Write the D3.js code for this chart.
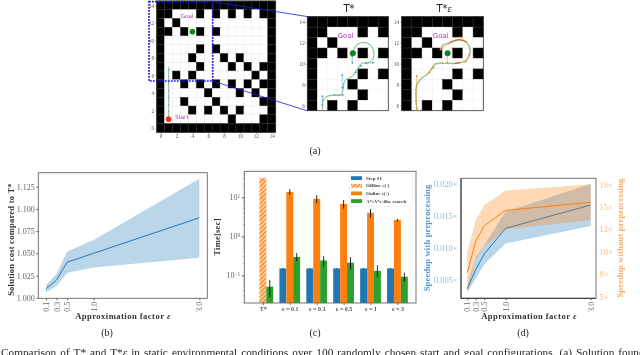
<!DOCTYPE html>
<html>
<head>
<meta charset="utf-8">
<script src="https://cdnjs.cloudflare.com/ajax/libs/d3/7.8.5/d3.min.js"></script>
<style>
  html, body { margin: 0; padding: 0; background: #fff; overflow: hidden; }
  svg { display: block; filter: blur(0.3px); }
  text { font-family: "Liberation Serif", serif; }
  text.sans { font-family: "DejaVu Sans", sans-serif; }
  .axis path, .axis line { stroke: #666; }
</style>
</head>
<body>
<svg id="chart" width="640" height="355"></svg>
<script>
const blue = '#1f77b4'
const orange = '#ff7f0e'
const green = '#2ca02c'

// grid map, top row is y = 14
const gridRows = [
  '###############',
  '##...#.#.#.#.##',
  '#.#...........#',
  '##.#.#.#......#',
  '#.............#',
  '#....#.#......#',
  '#...#...#.#...#',
  '#....#...#.#.##',
  '#.#.#.......#.#',
  '#..#.#.#.#.#.##',
  '#.....#...#.#.#',
  '#..#...#.....##',
  '#...#.#.#.#...#',
  '#........#...##',
  '###############',
]
const gridTicks = [0, 2, 4, 6, 8, 10, 12, 14]
const insetYTicks = [6, 8, 10, 12, 14]
const startCell = [1, 1]
const goalCell = [4, 11]

// paths, in grid units
const startPath = [[1, 1], [1, 7]]
const tStarPath = [[1, 5.6], [1, 6.2], [1.27, 6.77], [2.07, 7], [2.8, 7], [3.05, 7.63], [3.2, 8.37], [3.87, 8.75], [4.43, 9.45], [4.86, 10.03], [5.5, 10.1], [5.95, 10.4], [6.08, 11.15], [5.7, 11.8], [5.03, 12.04], [4.37, 11.8], [3.97, 11]]
const tStarArrows = [[1, 5.9, 1, 7], [2.07, 7, 3.1, 7], [2.95, 7.6, 2.95, 9], [4.2, 9.07, 4.86, 9.87], [5.2, 10.03, 6.1, 10.1], [3.94, 10.8, 3.94, 10]]
const epsPath = [[0.97, 5.6], [0.97, 7.95], [1.46, 8.6], [2.1, 9.07], [2.77, 9.96], [3.75, 10.03], [4.73, 10.03], [5.2, 10.1], [5.87, 10.35], [6.2, 11.3], [5.87, 12.04], [5.2, 12.3], [4.24, 12], [3.6, 11.8], [3.25, 11.3]]
const epsArrows = [[0.97, 5.6, 0.97, 8.9], [2.1, 9.07, 2.7, 9.7], [3.97, 10, 3.97, 11], [3.25, 11.3, 4.2, 12], [5.2, 12.6, 5.87, 12.04], [5.7, 10.1, 6.2, 11]]
const epsRed = [[[4.2, 12.05], [5.1, 12.3], [5.87, 12.05]], [[4.7, 10.03], [5.3, 10.1]]]

// (b)
const factors = [0.1, 0.3, 0.5, 1.0, 3.0]
const factorLabels = ['0.1', '0.3', '0.5', '1.0', '3.0']
const costMean = [1.010, 1.020, 1.040, 1.050, 1.090]
const costUpper = [1.014, 1.027, 1.052, 1.065, 1.134]
const costLower = [1.006, 1.013, 1.028, 1.034, 1.045]
const costTicks = [1.000, 1.025, 1.050, 1.075, 1.100, 1.125]

// (c)
const methods = ['T*', 'ε = 0.1', 'ε = 0.3', 'ε = 0.5', 'ε = 1', 'ε = 3']
const stepS1 = [null, 0.15, 0.15, 0.15, 0.15, 0.15]
const stepS1Low = [null, 0.147, 0.147, 0.147, 0.147, 0.147]
const stepS1High = [null, 0.153, 0.153, 0.153, 0.153, 0.153]
const offline = [31, null, null, null, null, null]
const online = [null, 13.7, 9.1, 6.75, 4, 2.6]
const onlineLow = [null, 11.5, 7, 5.1, 3, 2.4]
const onlineHigh = [null, 16, 11.2, 8.5, 5, 2.8]
const search = [0.051, 0.295, 0.24, 0.21, 0.13, 0.092]
const searchLow = [0.028, 0.23, 0.165, 0.14, 0.09, 0.069]
const searchHigh = [0.076, 0.37, 0.31, 0.29, 0.18, 0.117]
const legendLabels = ['Step S1', 'Offline c(·)', 'Online c(·)', 'A*/A*ε-like search']

// (d)
const speedMean = [0.0035, 0.00657, 0.009, 0.013, 0.01665]
const speedUpper = [0.0041, 0.00845, 0.0104, 0.0156, 0.01995]
const speedLower = [0.0029, 0.00516, 0.00735, 0.0106, 0.01336]
const rawMean = [7.7, 11.2, 12.9, 14.6, 15.5]
const rawUpper = [10, 13.5, 15.2, 16.8, 17.5]
const rawLower = [5.55, 9.1, 10.6, 12.5, 13.5]
const speedTicks = [0.005, 0.010, 0.015, 0.020]
const speedLabels = ['0.005×', '0.010×', '0.015×', '0.020×']
const rawTicks = [5, 7.5, 10, 12.5, 15, 17.5]
const rawLabels = ['5×', '8×', '10×', '12×', '15×', '18×']

const svg = d3.select('#chart')

defs()
drawMaps()
drawCost()
drawTimes()
drawSpeedup()
drawCaptions()

function defs() {
  const d = svg.append('defs')
  const hatch = d.append('pattern')
    .attr('id', 'hatch')
    .attr('width', 3)
    .attr('height', 3)
    .attr('patternUnits', 'userSpaceOnUse')
    .attr('patternTransform', 'rotate(45)')
  hatch.append('rect').attr('width', 3).attr('height', 3).attr('fill', '#ffe2c4')
  hatch.append('rect').attr('width', 1.5).attr('height', 3).attr('fill', orange)
  const heads = { blueHead: '#4a9bd8', orangeHead: '#f58a2a' }
  for (const id in heads) {
    d.append('marker')
      .attr('id', id)
      .attr('viewBox', '0 0 6 6')
      .attr('refX', 5)
      .attr('refY', 3)
      .attr('markerWidth', 4.5)
      .attr('markerHeight', 4.5)
      .attr('orient', 'auto-start-reverse')
      .append('path')
      .attr('d', 'M0,0L6,3L0,6Z')
      .attr('fill', heads[id])
  }
}

function gridMap(g, x, y, colMax, rowMin, gridColor) {
  gridRows.forEach((row, i) => {
    const rowY = 14 - i
    if (rowY < rowMin) return
    row.split('').forEach((c, col) => {
      if (col > colMax) return
      g.append('rect')
        .attr('x', x(col - 0.5))
        .attr('y', y(rowY + 0.5))
        .attr('width', x(1) - x(0))
        .attr('height', y(0) - y(1))
        .attr('fill', c === '#' ? '#000' : '#fff')
        .attr('stroke', c === '#' ? '#2a2a2a' : gridColor)
        .attr('stroke-width', 0.5)
    })
  })
  g.append('rect')
    .attr('x', x.range()[0])
    .attr('y', y.range()[1])
    .attr('width', x.range()[1] - x.range()[0])
    .attr('height', y.range()[0] - y.range()[1])
    .attr('fill', 'none')
    .attr('stroke', '#333')
    .attr('stroke-width', 0.8)
}

function smallAxes(g, x, y, xTicks, yTicks) {
  const sty = (a) => {
    a.select('.domain').remove()
    a.selectAll('line').attr('stroke', '#555').attr('stroke-width', 0.5)
    a.selectAll('text').attr('fill', '#555').attr('font-size', 5.2).attr('font-family', 'DejaVu Sans')
  }
  if (xTicks) {
    g.append('g')
      .attr('transform', `translate(0,${y.range()[0]})`)
      .call(d3.axisBottom(x).tickValues(xTicks).tickSize(1.5).tickPadding(1))
      .call(sty)
  }
  g.append('g')
    .attr('transform', `translate(${x.range()[0]},0)`)
    .call(d3.axisLeft(y).tickValues(yTicks).tickSize(1.5).tickPadding(1))
    .call(sty)
}

function arrows(g, list, x, y, color, head) {
  g.selectAll(null)
    .data(list)
    .join('line')
    .attr('x1', (d) => x(d[0]))
    .attr('y1', (d) => y(d[1]))
    .attr('x2', (d) => x(d[2]))
    .attr('y2', (d) => y(d[3]))
    .attr('stroke', color)
    .attr('stroke-width', 0.55)
    .attr('marker-end', `url(#${head})`)
    .attr('marker-start', `url(#${head})`)
}

function drawMaps() {
  // full map
  const full = svg.append('g')
  const fx = d3.scaleLinear().domain([-0.5, 14.5]).range([156.7, 275.7])
  const fy = d3.scaleLinear().domain([-0.5, 14.5]).range([132.3, 1])
  gridMap(full, fx, fy, 14, 0, '#ececec')
  smallAxes(full, fx, fy, gridTicks, gridTicks)

  full.append('line')
    .attr('x1', fx(startPath[0][0]))
    .attr('y1', fy(startPath[0][1]))
    .attr('x2', fx(startPath[1][0]))
    .attr('y2', fy(startPath[1][1]))
    .attr('stroke', '#9ccfa0')
    .attr('stroke-width', 1.4)
  full.append('line')
    .attr('x1', fx(startPath[0][0]))
    .attr('y1', fy(startPath[0][1]))
    .attr('x2', fx(startPath[1][0]))
    .attr('y2', fy(startPath[1][1]))
    .attr('stroke', '#3a8fd0')
    .attr('stroke-width', 1)
    .attr('stroke-dasharray', '1 6')
  full.append('circle')
    .attr('cx', fx(startCell[0]))
    .attr('cy', fy(startCell[1]))
    .attr('r', 2.8)
    .attr('fill', '#f03020')
  full.append('circle')
    .attr('cx', fx(goalCell[0]))
    .attr('cy', fy(goalCell[1]))
    .attr('r', 2.8)
    .attr('fill', '#0a8a1a')
  full.append('text')
    .attr('class', 'sans')
    .attr('x', fx(2.53))
    .attr('y', fy(12.53))
    .attr('font-size', 5.6)
    .attr('fill', '#b040b0')
    .text('Goal')
  full.append('text')
    .attr('class', 'sans')
    .attr('x', fx(1.8))
    .attr('y', fy(1))
    .attr('font-size', 5.6)
    .attr('fill', '#b040b0')
    .text('Start')

  // zoom box and connectors
  svg.append('rect')
    .attr('x', 149)
    .attr('y', 1.7)
    .attr('width', 63.7)
    .attr('height', 79.3)
    .attr('fill', 'none')
    .attr('stroke', '#1a1ae0')
    .attr('stroke-width', 1.7)
    .attr('stroke-dasharray', '1.8 1.2')
  svg.append('line').attr('x1', 212.7).attr('y1', 1.7).attr('x2', 307).attr('y2', 16.5).attr('stroke', '#1a1ae0').attr('stroke-width', 0.8)
  svg.append('line').attr('x1', 212.7).attr('y1', 81).attr('x2', 307).attr('y2', 110.7).attr('stroke', '#1a1ae0').attr('stroke-width', 0.8)

  // T*
  const line = (x, y) => d3.line().x((d) => x(d[0])).y((d) => y(d[1])).curve(d3.curveCatmullRom)
  const left = svg.append('g')
  const lx = d3.scaleLinear().domain([-0.5, 7.5]).range([307.3, 388.3])
  const ly = d3.scaleLinear().domain([5.5, 14.5]).range([110.7, 16.7])
  gridMap(left, lx, ly, 7, 6, '#f4f4f4')
  smallAxes(left, lx, ly, null, insetYTicks)
  arrows(left, tStarArrows, lx, ly, '#4a9bd8', 'blueHead')
  left.append('path')
    .attr('d', line(lx, ly)(tStarPath))
    .attr('fill', 'none')
    .attr('stroke', '#63b96b')
    .attr('stroke-width', 1)
  left.append('circle').attr('cx', lx(goalCell[0])).attr('cy', ly(goalCell[1])).attr('r', 3).attr('fill', '#0a8a1a')
  left.append('text')
    .attr('class', 'sans')
    .attr('x', lx(2.5))
    .attr('y', ly(12.47))
    .attr('font-size', 7)
    .attr('fill', '#b040b0')
    .text('Goal')
  svg.append('text')
    .attr('class', 'sans')
    .attr('x', 349)
    .attr('y', 12)
    .attr('text-anchor', 'middle')
    .attr('font-size', 10)
    .attr('fill', '#222')
    .text('T*')

  // T*eps
  const right = svg.append('g')
  const rx = d3.scaleLinear().domain([-0.5, 7.5]).range([401.7, 483.3])
  gridMap(right, rx, ly, 7, 6, '#f0f0f0')
  smallAxes(right, rx, ly, null, insetYTicks)
  right.append('path')
    .attr('d', line(rx, ly)(epsPath))
    .attr('fill', 'none')
    .attr('stroke', '#8ccb8f')
    .attr('stroke-width', 1.4)
  right.append('path')
    .attr('d', line(rx, ly)(epsPath))
    .attr('fill', 'none')
    .attr('stroke', '#f58a2a')
    .attr('stroke-width', 0.8)
    .attr('stroke-dasharray', '1.5 6')
  epsRed.forEach((p) => {
    right.append('path')
      .attr('d', line(rx, ly)(p))
      .attr('fill', 'none')
      .attr('stroke', '#e83a20')
      .attr('stroke-width', 0.9)
  })
  arrows(right, epsArrows, rx, ly, '#f58a2a', 'orangeHead')
  right.append('circle').attr('cx', rx(goalCell[0])).attr('cy', ly(goalCell[1])).attr('r', 3).attr('fill', '#0a8a1a')
  right.append('text')
    .attr('class', 'sans')
    .attr('x', rx(2.54))
    .attr('y', ly(12.47))
    .attr('font-size', 7)
    .attr('fill', '#b040b0')
    .text('Goal')
  const title = svg.append('text')
    .attr('class', 'sans')
    .attr('x', 444)
    .attr('y', 12)
    .attr('text-anchor', 'middle')
    .attr('font-size', 10)
    .attr('fill', '#222')
    .text('T*')
  title.append('tspan').attr('font-style', 'italic').attr('font-family', 'Liberation Serif').text('ε')
}

function frame(g, x0, y0, x1, y1) {
  g.append('rect')
    .attr('x', x0)
    .attr('y', y0)
    .attr('width', x1 - x0)
    .attr('height', y1 - y0)
    .attr('fill', 'none')
    .attr('stroke', '#666')
    .attr('stroke-width', 0.9)
}

function factorAxis(g, x, yPos) {
  g.append('g')
    .attr('class', 'axis')
    .attr('transform', `translate(0,${yPos})`)
    .call(d3.axisBottom(x).tickValues(factors).tickFormat((d, i) => factorLabels[i]).tickSize(2).tickPadding(1.5))
    .call((a) => {
      a.select('.domain').remove()
      a.selectAll('text')
        .attr('transform', 'rotate(-90)')
        .attr('text-anchor', 'end')
        .attr('x', -3.5)
        .attr('y', 0)
        .attr('dy', '0.32em')
        .attr('font-size', 8)
        .attr('font-family', 'Liberation Serif')
        .attr('fill', '#666')
    })
}

function xLabel(g, cx) {
  const t = g.append('text')
    .attr('x', cx)
    .attr('y', 319)
    .attr('text-anchor', 'middle')
    .attr('font-size', 8.6)
    .attr('font-weight', 'bold')
    .attr('letter-spacing', 0.45)
    .attr('fill', '#333')
    .text('Approximation factor ')
  t.append('tspan').attr('font-style', 'italic').text('ε')
}

function drawCost() {
  const g = svg.append('g')
  const x = d3.scaleLinear().domain([0.1, 3]).range([46, 199.3])
  const y = d3.scaleLinear().domain([1, 1.125]).range([297.7, 186.7])
  const area = d3.area()
    .x((d, i) => x(factors[i]))
    .y0((d, i) => y(costLower[i]))
    .y1((d) => y(d))
  g.append('path').attr('d', area(costUpper)).attr('fill', blue).attr('opacity', 0.3)
  g.append('path')
    .attr('d', d3.line().x((d, i) => x(factors[i])).y((d) => y(d))(costMean))
    .attr('fill', 'none')
    .attr('stroke', blue)
    .attr('stroke-width', 1)
  frame(g, 38.3, 172.7, 207.3, 298.3)
  factorAxis(g, x, 298.3)
  g.append('g')
    .attr('class', 'axis')
    .attr('transform', 'translate(38.3,0)')
    .call(d3.axisLeft(y).tickValues(costTicks).tickFormat(d3.format('.3f')).tickSize(2).tickPadding(1.5))
    .call((a) => {
      a.select('.domain').remove()
      a.selectAll('text').attr('font-size', 8).attr('font-family', 'Liberation Serif').attr('fill', '#666')
    })
  xLabel(g, 123)
  g.append('text')
    .attr('transform', 'translate(13.5,239.5) rotate(-90)')
    .attr('text-anchor', 'middle')
    .attr('font-size', 8.6)
    .attr('font-weight', 'bold')
    .attr('letter-spacing', 0.2)
    .attr('fill', '#333')
    .text('Solution cost compared to T*')
}

function drawTimes() {
  const g = svg.append('g')
  const x = d3.scalePoint().domain(methods).range([244.3, 416]).padding(0.69)
  const y = d3.scaleLog().domain([0.0195, 46]).range([303, 171.3])
  const w = x.step() * 0.257
  const series = [
    { values: stepS1, low: stepS1Low, high: stepS1High, fill: blue, off: -1 },
    { values: offline, fill: 'url(#hatch)', off: 0 },
    { values: online, low: onlineLow, high: onlineHigh, fill: orange, off: 0 },
    { values: search, low: searchLow, high: searchHigh, fill: green, off: 1 },
  ]
  series.forEach((s) => {
    methods.forEach((m, i) => {
      if (s.values[i] == null) return
      const cx = x(m) + s.off * w
      g.append('rect')
        .attr('x', cx - w / 2)
        .attr('y', y(s.values[i]))
        .attr('width', w)
        .attr('height', 303 - y(s.values[i]))
        .attr('fill', s.fill)
    })
  })
  series.forEach((s) => {
    if (!s.low) return
    methods.forEach((m, i) => {
      if (s.values[i] == null) return
      const cx = x(m) + s.off * w
      g.append('line')
        .attr('x1', cx)
        .attr('x2', cx)
        .attr('y1', y(s.low[i]))
        .attr('y2', y(s.high[i]))
        .attr('stroke', '#111')
        .attr('stroke-width', 0.9)
    })
  })
  frame(g, 244.3, 171.3, 416, 303)
  g.append('g')
    .attr('class', 'axis')
    .attr('transform', 'translate(0,303)')
    .call(d3.axisBottom(x).tickSize(2).tickPadding(1.5))
    .call((a) => {
      a.select('.domain').remove()
      a.selectAll('text')
        .attr('font-size', 6)
        .attr('font-weight', 'bold')
        .attr('font-family', 'Liberation Serif')
        .attr('fill', '#555')
    })
  const yAxis = g.append('g')
    .attr('class', 'axis')
    .attr('transform', 'translate(244.3,0)')
    .call(d3.axisLeft(y).tickValues([0.1, 1, 10]).tickFormat(() => '10').tickSize(2.5).tickPadding(1.5))
  yAxis.select('.domain').remove()
  yAxis.selectAll('text')
    .attr('font-size', 8)
    .attr('font-family', 'Liberation Serif')
    .attr('fill', '#666')
    .append('tspan')
    .attr('dy', '-0.45em')
    .attr('font-size', 5.4)
    .text((d) => (d < 1 ? '−1' : d < 10 ? '0' : '1'))
  // minor log ticks
  const minor = []
  for (const dec of [0.01, 0.1, 1, 10]) {
    for (let k = 2; k < 10; k++) {
      if (dec * k > 0.0195 && dec * k < 46) minor.push(dec * k)
    }
  }
  g.selectAll(null)
    .data(minor)
    .join('line')
    .attr('x1', 244.3)
    .attr('x2', 242.9)
    .attr('y1', (d) => y(d))
    .attr('y2', (d) => y(d))
    .attr('stroke', '#777')
    .attr('stroke-width', 0.5)
  g.append('text')
    .attr('transform', 'translate(220,237) rotate(-90)')
    .attr('text-anchor', 'middle')
    .attr('font-size', 8.6)
    .attr('font-weight', 'bold')
    .attr('letter-spacing', 0.2)
    .attr('fill', '#333')
    .text('Time[sec]')

  // legend
  const leg = g.append('g')
  leg.append('rect')
    .attr('x', 349.3)
    .attr('y', 173.7)
    .attr('width', 63)
    .attr('height', 32.6)
    .attr('rx', 1)
    .attr('fill', '#fff')
    .attr('fill-opacity', 0.85)
    .attr('stroke', '#ddd')
    .attr('stroke-width', 0.5)
  const fills = [blue, 'url(#hatch)', orange, green]
  legendLabels.forEach((label, i) => {
    const ly = 178 + i * 7.65
    leg.append('rect')
      .attr('x', 351)
      .attr('y', ly - 1.8)
      .attr('width', 11)
      .attr('height', 3.8)
      .attr('fill', fills[i])
    leg.append('text')
      .attr('x', 366)
      .attr('y', ly + 1.8)
      .attr('font-size', 5)
      .attr('font-weight', 'bold')
      .attr('fill', '#444')
      .text(label)
  })
}

function drawSpeedup() {
  const g = svg.append('g')
  const x = d3.scaleLinear().domain([0.1, 3]).range([467.3, 590.7])
  const yl = d3.scaleLinear().domain([0.005, 0.02]).range([279.3, 183.7])
  const yr = d3.scaleLinear().domain([5, 17.5]).range([296.7, 184.3])
  const band = (y, lower) => d3.area()
    .x((d, i) => x(factors[i]))
    .y0((d, i) => y(lower[i]))
    .y1((d) => y(d))
  const path = (y) => d3.line().x((d, i) => x(factors[i])).y((d) => y(d))
  g.append('path').attr('d', band(yl, speedLower)(speedUpper)).attr('fill', blue).attr('opacity', 0.3)
  g.append('path').attr('d', path(yl)(speedMean)).attr('fill', 'none').attr('stroke', blue).attr('stroke-width', 1)
  g.append('path').attr('d', band(yr, rawLower)(rawUpper)).attr('fill', orange).attr('opacity', 0.3)
  g.append('path').attr('d', path(yr)(rawMean)).attr('fill', 'none').attr('stroke', orange).attr('stroke-width', 1)
  frame(g, 461, 178.3, 596, 298.3)
  factorAxis(g, x, 298.3)
  g.append('line').attr('x1', 461).attr('x2', 461).attr('y1', 178.3).attr('y2', 298.3).attr('stroke', '#333').attr('stroke-width', 1)
  g.append('line').attr('x1', 461).attr('x2', 596).attr('y1', 298.3).attr('y2', 298.3).attr('stroke', '#333').attr('stroke-width', 1)

  g.append('g')
    .attr('transform', 'translate(461,0)')
    .call(d3.axisLeft(yl).tickValues(speedTicks).tickFormat((d, i) => speedLabels[i]).tickSize(2).tickPadding(1.5))
    .call((a) => {
      a.select('.domain').remove()
      a.selectAll('line').attr('stroke', '#8fbbe0')
      a.selectAll('text').attr('font-size', 8.4).attr('font-family', 'Liberation Serif').attr('fill', '#8fbbe0')
    })
  g.append('g')
    .attr('transform', 'translate(596,0)')
    .call(d3.axisRight(yr).tickValues(rawTicks).tickFormat((d, i) => rawLabels[i]).tickSize(2).tickPadding(1.5))
    .call((a) => {
      a.select('.domain').remove()
      a.selectAll('line').attr('stroke', '#fcc48f')
      a.selectAll('text').attr('font-size', 8.4).attr('font-family', 'Liberation Serif').attr('fill', '#fcbb80')
    })
  xLabel(g, 529)
  g.append('text')
    .attr('transform', 'translate(429.5,238) rotate(-90)')
    .attr('text-anchor', 'middle')
    .attr('font-size', 8.6)
    .attr('font-weight', 'bold')
    .attr('letter-spacing', 0.15)
    .attr('fill', '#4f97d0')
    .text('Speedup with preprocessing')
  g.append('text')
    .attr('transform', 'translate(622.5,238) rotate(-90)')
    .attr('text-anchor', 'middle')
    .attr('font-size', 8.6)
    .attr('font-weight', 'bold')
    .attr('letter-spacing', 0.15)
    .attr('fill', '#f7ac66')
    .text('Speedup without preprocessing')
}

function drawCaptions() {
  const caps = [['(a)', 315, 154], ['(b)', 107, 336], ['(c)', 315, 336], ['(d)', 523, 336]]
  caps.forEach(([t, x, y]) => {
    svg.append('text')
      .attr('x', x)
      .attr('y', y)
      .attr('text-anchor', 'middle')
      .attr('font-size', 10)
      .attr('fill', '#222')
      .text(t)
  })
  const c = svg.append('text')
    .attr('x', 1)
    .attr('y', 355.5)
    .attr('font-size', 11.3)
    .attr('word-spacing', 1.2)
    .attr('fill', '#222')
    .text('Comparison of T* and T*')
  c.append('tspan').attr('font-style', 'italic').text('ε')
  c.append('tspan').text(' in static environmental conditions over 100 randomly chosen start and goal configurations. (a) Solution found')
}
</script>
</body>
</html>
